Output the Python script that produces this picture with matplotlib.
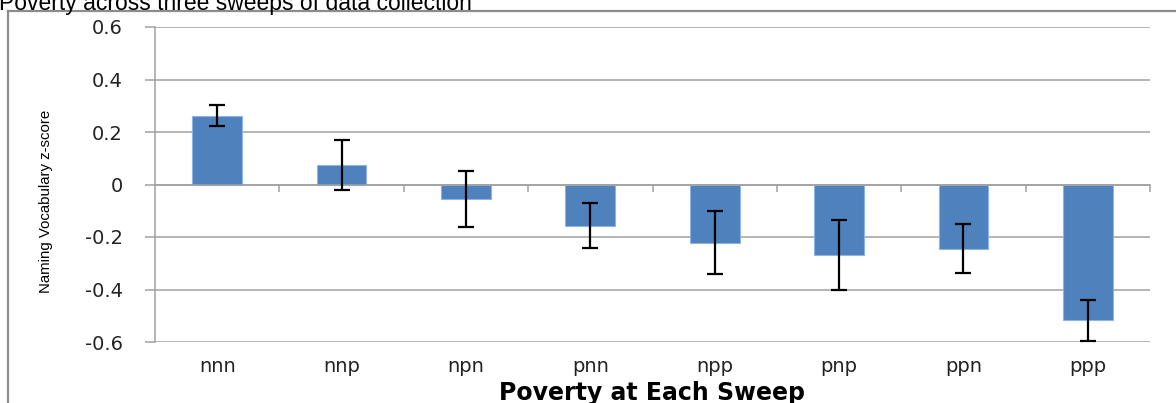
import matplotlib.pyplot as plt
from matplotlib.lines import Line2D
from matplotlib.transforms import blended_transform_factory

# data
categories = ['nnn', 'nnp', 'npn', 'pnn', 'npp', 'pnp', 'ppn', 'ppp']
means = [0.262, 0.073, -0.055, -0.157, -0.222, -0.268, -0.245, -0.518]
errors = [0.040, 0.095, 0.108, 0.085, 0.120, 0.132, 0.093, 0.077]
yticks = [0.6, 0.4, 0.2, 0, -0.2, -0.4, -0.6]
ytick_labels = ['0.6', '0.4', '0.2', '0', '-0.2', '-0.4', '-0.6']

W, H = 1176, 403
fig = plt.figure(figsize=(W / 100, H / 100), dpi=100)
ax = fig.add_axes([155 / W, 1 - 342 / H, (1150 - 155) / W, (342 - 27) / H])

x = list(range(len(categories)))
ax.bar(x, means, width=0.4, color='#4f81bd', edgecolor='#8eb4e3', linewidth=0.8, zorder=2)
ax.errorbar(x, means, yerr=errors, fmt='none', ecolor='black', elinewidth=1.6,
            capsize=5.5, capthick=1.6, zorder=3)

ax.set_xlim(-0.5, len(categories) - 0.5)
ax.set_ylim(-0.6, 0.6)

# gridlines
ax.set_yticks(yticks)
ax.set_yticklabels(ytick_labels, fontsize=14, color='#222222', family='DejaVu Sans')
ax.yaxis.grid(True, color='#a0a0a0', linewidth=1.1, zorder=0)
ax.set_axisbelow(True)
ax.tick_params(axis='y', length=7, width=1.1, color='#a0a0a0', pad=16)

# x axis sits on zero, ticks at category boundaries
for s in ['top', 'right']:
    ax.spines[s].set_visible(False)
ax.spines['left'].set_color('#a0a0a0')
ax.spines['left'].set_linewidth(1.1)
ax.spines['bottom'].set_position(('data', 0))
ax.spines['bottom'].set_color('#a0a0a0')
ax.spines['bottom'].set_linewidth(1.1)
ax.set_xticks([i + 0.5 for i in x])
ax.set_xticklabels([])
ax.tick_params(axis='x', length=5, width=1.1, color='#a0a0a0', direction='out')

tr = blended_transform_factory(ax.transData, ax.transAxes)
for i, c in zip(x, categories):
    ax.text(i, -0.079, c, transform=tr, ha='center', va='center',
            fontsize=14, color='#222222', family='DejaVu Sans')

fig.text(46 / W, 1 - 201 / H, 'Naming Vocabulary z-score', rotation=90,
         ha='center', va='center', fontsize=10.8,
         family=['Liberation Sans Narrow', 'Liberation Sans'], color='black')
fig.text(652 / W, 3 / H, 'Poverty at Each Sweep', ha='center', va='baseline',
         fontsize=17, fontweight='bold', family='DejaVu Sans', color='black')

# cut-off title and outer frame
fig.text(-1 / W, 1 - 10 / H, 'Poverty across three sweeps of data collection',
         ha='left', va='baseline', fontsize=16.5, family='Liberation Sans', color='black')
fig.add_artist(Line2D([8 / W, 8 / W], [0, 1 - 11 / H], transform=fig.transFigure,
                      color='#8c8c8c', linewidth=1.6))
fig.add_artist(Line2D([8 / W, 1], [1 - 11 / H, 1 - 11 / H], transform=fig.transFigure,
                      color='#8c8c8c', linewidth=1.6))

fig.savefig('out.png', dpi=100)
